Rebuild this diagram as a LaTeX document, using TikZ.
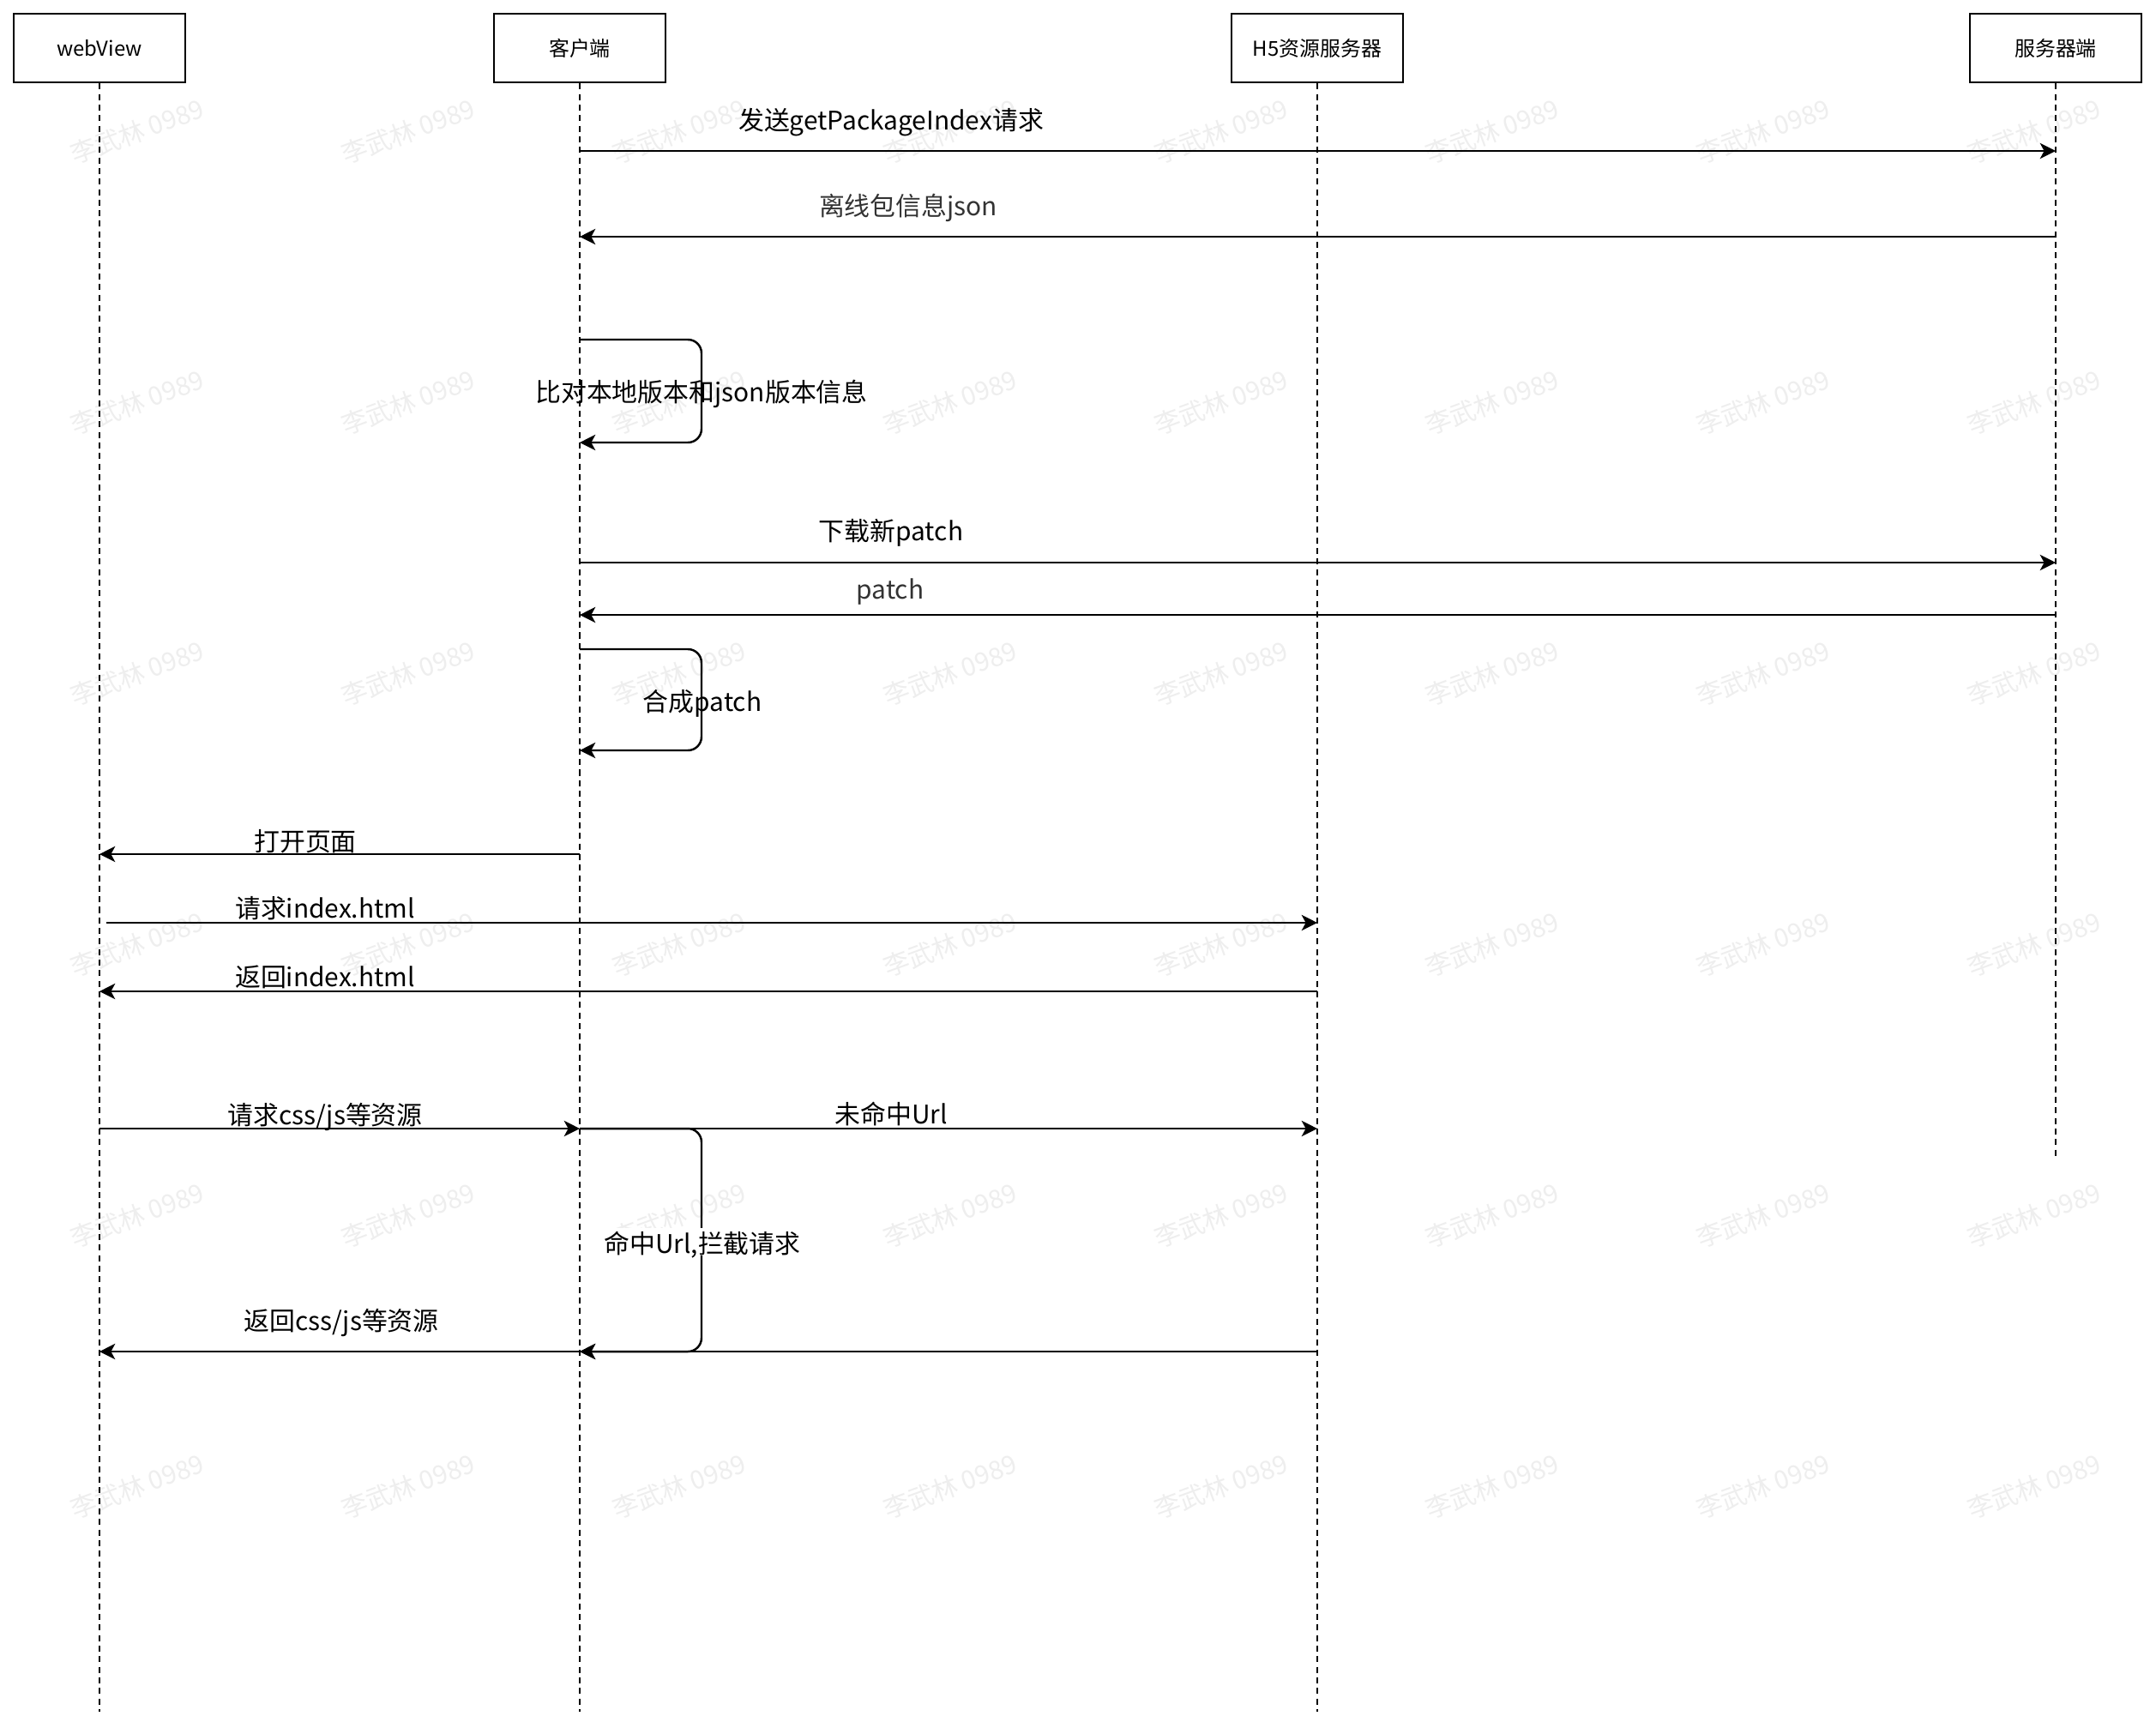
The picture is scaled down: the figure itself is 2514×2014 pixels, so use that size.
\documentclass[tikz,border=0pt]{standalone}
\usepackage{fontspec}
\setmainfont{Noto Sans CJK SC}
\usepackage{tikz}
\usetikzlibrary{arrows.meta,positioning}
\definecolor{sqink}{RGB}{0,0,0}
\definecolor{sqgray}{RGB}{51,51,51}
\definecolor{sqmark}{RGB}{238,238,238}

\begin{document}
\begin{tikzpicture}[x=0.01cm,y=-0.01cm,
    actor/.style={draw=sqink, line width=0.8pt, minimum width=2cm, minimum height=0.8cm,
        inner sep=0pt, font=\fontsize{6.8pt}{8pt}\selectfont},
    lifeline/.style={draw=sqink, line width=0.55pt, dash pattern=on 2pt off 1.5pt},
    msg/.style={draw=sqink, line width=0.7pt, -{Stealth[length=5.2pt,width=5.2pt,inset=1.4pt]}},
    loopmsg/.style={msg, rounded corners=4.5pt},
    lbl/.style={inner sep=0pt, text height=0.83em, text depth=0.07em,
        font=\fontsize{8.5pt}{10pt}\selectfont},
    wmark/.style={text=sqmark, rotate=20, inner sep=0pt, font=\fontsize{8.5pt}{10pt}\selectfont}]

    \fill[white] (0,0) rectangle (2514,2014);
    \useasboundingbox (0,0) rectangle (2514,2014);

    % Watermark
    \foreach \col in {0,...,7}
        \foreach \row in {0,...,5}
            \node[wmark] (wm-\col-\row) at ({160+316*\col},{153+316*\row}) {李武林 0989};

    % Actors and lifelines
    \node[actor] (webview) at (116,56) {webView};
    \node[actor] (client) at (676,56) {客户端};
    \node[actor] (h5srv) at (1536,56) {H5资源服务器};
    \node[actor] (server) at (2397,56) {服务器端};
    \coordinate (webviewEnd) at (116,1996);
    \coordinate (clientEnd) at (676,1996);
    \coordinate (h5srvEnd) at (1536,1996);
    \coordinate (serverEnd) at (2397,1350);
    \draw[lifeline] (webview) -- (webviewEnd);
    \draw[lifeline] (client) -- (clientEnd);
    \draw[lifeline] (h5srv) -- (h5srvEnd);
    \draw[lifeline] (server) -- (serverEnd);

    % Message rows
    \coordinate (r1) at (0,176);
    \coordinate (r2) at (0,276);
    \coordinate (r3a) at (0,396);
    \coordinate (r3b) at (0,516);
    \coordinate (r4) at (0,656);
    \coordinate (r5) at (0,717);
    \coordinate (r6a) at (0,757);
    \coordinate (r6b) at (0,875);
    \coordinate (r7) at (0,996);
    \coordinate (r8) at (0,1076);
    \coordinate (r9) at (0,1156);
    \coordinate (r10) at (0,1316);
    \coordinate (r13) at (0,1576);
    \coordinate (loopx) at (818,0);

    % Update of the offline package
    \draw[msg] (client |- r1) -- (server |- r1);
    \node[lbl] (l1) at (1039,138) {发送getPackageIndex请求};
    \draw[msg] (server |- r2) -- (client |- r2);
    \node[lbl, text=sqgray] (l2) at (1059,238) {离线包信息json};
    \draw[loopmsg] (client |- r3a) -| (loopx |- r3b) -- (client |- r3b);
    \node[lbl] (l3) at (818,455) {比对本地版本和json版本信息};
    \draw[msg] (client |- r4) -- (server |- r4);
    \node[lbl] (l4) at (1039,617) {下载新patch};
    \draw[msg] (server |- r5) -- (client |- r5);
    \node[lbl, text=sqgray] (l5) at (1038,685) {patch};
    \draw[loopmsg] (client |- r6a) -| (loopx |- r6b) -- (client |- r6b);
    \node[lbl] (l6) at (819,816) {合成patch};

    % Page loading
    \draw[msg] (client |- r7) -- (webview |- r7);
    \node[lbl] (l7) at (356,979) {打开页面};
    \draw[msg] ([xshift=0.08cm]webview |- r8) -- (h5srv |- r8);
    \node[lbl] (l8) at (379,1057) {请求index.html};
    \draw[msg] (h5srv |- r9) -- (webview |- r9);
    \node[lbl] (l9) at (379,1137) {返回index.html};
    \draw[msg] (webview |- r10) -- (client |- r10);
    \node[lbl] (l10) at (379,1298) {请求css/js等资源};
    \draw[msg] (client |- r10) -- (h5srv |- r10);
    \node[lbl] (l11) at (1039,1297) {未命中Url};
    \draw[loopmsg] (client |- r10) -| (loopx |- r13) -- (client |- r13);
    \node[lbl, fill=white] (l12) at (819,1448) {命中Url,拦截请求};
    \draw[msg] (h5srv |- r13) -- (client |- r13);
    \draw[msg] (client |- r13) -- (webview |- r13);
    \node[lbl] (l13) at (398,1538) {返回css/js等资源};

\end{tikzpicture}
\end{document}
